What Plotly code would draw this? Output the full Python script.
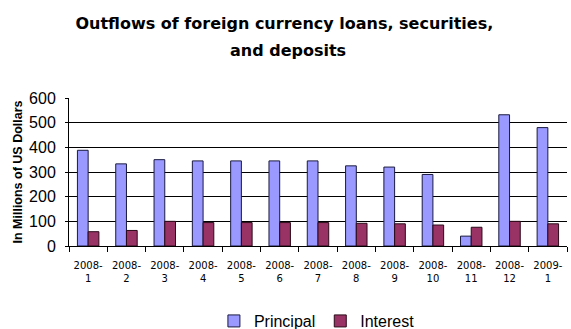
import plotly.graph_objects as go

# Monthly outflows, millions of US dollars
months = ["2008-<br>1", "2008-<br>2", "2008-<br>3", "2008-<br>4", "2008-<br>5",
          "2008-<br>6", "2008-<br>7", "2008-<br>8", "2008-<br>9", "2008-<br>10",
          "2008-<br>11", "2008-<br>12", "2009-<br>1"]
principal = [388, 333, 350, 345, 345, 345, 345, 325, 320, 290, 40, 532, 480]
interest = [58, 63, 100, 95, 95, 95, 95, 92, 90, 85, 76, 100, 90]
y_ticks = [0, 100, 200, 300, 400, 500, 600]
title_lines = ["Outflows of foreign currency loans, securities,", "and deposits"]

arial = "Liberation Sans, Arial, sans-serif"
wide = "DejaVu Sans, Verdana, sans-serif"

fig = go.Figure()
fig.add_trace(go.Bar(
    x=months, y=principal, name="Principal",
    marker=dict(color="#9999FF", line=dict(color="#1a1a40", width=1)),
))
fig.add_trace(go.Bar(
    x=months, y=interest, name="Interest",
    marker=dict(color="#993366", line=dict(color="#2a0a18", width=1)),
))

fig.update_layout(
    width=571, height=329,
    margin=dict(l=69, r=4, t=98, b=83, autoexpand=False),
    paper_bgcolor="white", plot_bgcolor="white",
    barmode="group", bargap=0.44, bargroupgap=0.0,
    font=dict(family=arial, color="black"),
    title=dict(
        text="<b>" + title_lines[0] + "</b>",
        x=0.498, xanchor="center", xref="container",
        y=1 - 23.4 / 329, yanchor="middle", yref="container",
        font=dict(size=16, family=wide, color="black"),
    ),
    annotations=[dict(
        text="<b>" + title_lines[1] + "</b>",
        xref="paper", yref="paper", x=(288 - 69) / 498, y=(246 - 50.4) / 148,
        xanchor="center", yanchor="middle", showarrow=False,
        font=dict(size=16, family=wide, color="black"),
    )],
    legend=dict(
        orientation="h", x=0.291, xanchor="left", y=-0.507, yanchor="middle",
        font=dict(size=16, family=arial), itemwidth=30,
    ),
    showlegend=True,
)

fig.update_xaxes(
    type="category", showline=True, linecolor="black", linewidth=1,
    ticks="outside", tickson="boundaries", ticklen=5, tickcolor="black",
    tickangle=0, tickfont=dict(size=10, family=wide), ticklabelstandoff=10,
    showgrid=False,
)
fig.update_yaxes(
    range=[0, 600], tickvals=y_ticks, showline=True, linecolor="black",
    linewidth=1, ticks="outside", ticklen=3, tickcolor="black",
    tickfont=dict(size=16, family=arial), ticklabelstandoff=6,
    showgrid=True, gridcolor="black", gridwidth=1, zeroline=False,
    title=dict(text="<b>In Millions of US Dollars</b>",
               font=dict(size=12.5, family=arial), standoff=3),
)

fig.write_html("out.html")
